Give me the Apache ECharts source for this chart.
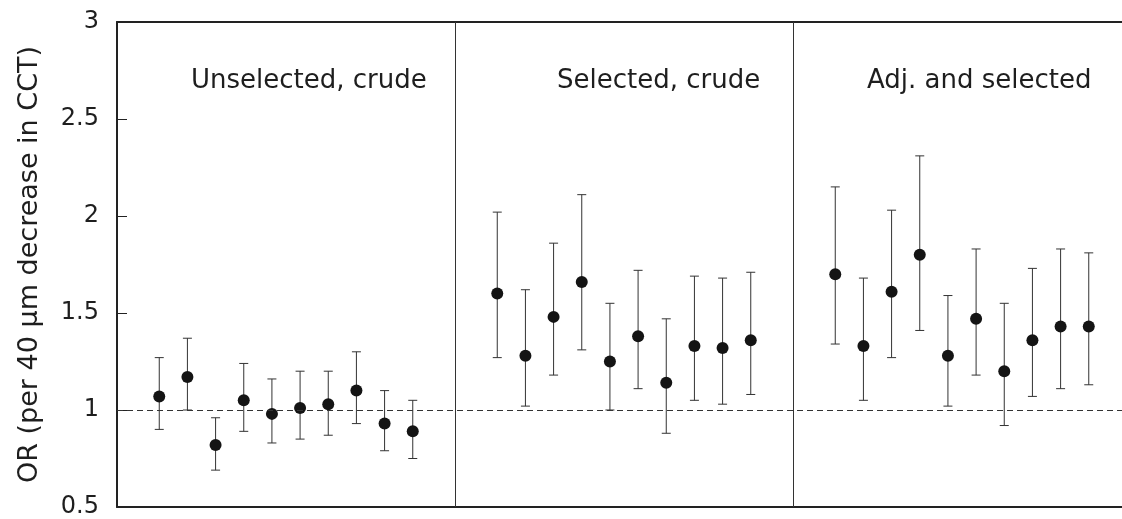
<!DOCTYPE html>
<html><head><meta charset="utf-8">
<script src="https://cdn.jsdelivr.net/npm/echarts@6/dist/echarts.min.js"></script>
<style>html,body{margin:0;padding:0;background:#fff}#c{width:1122px;height:519px}</style>
</head><body><div id="c"></div>
<script>
const panels = ['Unselected, crude', 'Selected, crude', 'Adj. and selected'];
const yTicks = [0.5, 1, 1.5, 2, 2.5, 3];
const est1 = [1.07, 1.17, 0.82, 1.05, 0.98, 1.01, 1.03, 1.10, 0.93, 0.89];
const low1 = [0.90, 1.00, 0.69, 0.89, 0.83, 0.85, 0.87, 0.93, 0.79, 0.75];
const up1  = [1.27, 1.37, 0.96, 1.24, 1.16, 1.20, 1.20, 1.30, 1.10, 1.05];
const est2 = [1.60, 1.28, 1.48, 1.66, 1.25, 1.38, 1.14, 1.33, 1.32, 1.36];
const low2 = [1.27, 1.02, 1.18, 1.31, 1.00, 1.11, 0.88, 1.05, 1.03, 1.08];
const up2  = [2.02, 1.62, 1.86, 2.11, 1.55, 1.72, 1.47, 1.69, 1.68, 1.71];
const est3 = [1.70, 1.33, 1.61, 1.80, 1.28, 1.47, 1.20, 1.36, 1.43, 1.43];
const low3 = [1.34, 1.05, 1.27, 1.41, 1.02, 1.18, 0.92, 1.07, 1.11, 1.13];
const up3  = [2.15, 1.68, 2.03, 2.31, 1.59, 1.83, 1.55, 1.73, 1.83, 1.81];

const groups = [[est1, low1, up1], [est2, low2, up2], [est3, low3, up3]];
const SLOTS = 12;
const pts = [], bars = [];
groups.forEach((g, gi) => {
  g[0].forEach((v, i) => {
    const x = gi * SLOTS + 1.5 + i;
    pts.push([x, v]);
    bars.push([x, g[1][i], g[2][i]]);
  });
});
const FONT = 'DejaVu Sans';
const TXT = '#1e1e1e';
const titleStyle = {fontFamily: FONT, fontSize: 26, fontWeight: 'normal', color: TXT};
const chart = echarts.init(document.getElementById('c'), null, {renderer: 'canvas'});
chart.setOption({
  animation: false,
  grid: {left: 117, top: 22, right: 0, bottom: 12, containLabel: false},
  xAxis: [
    {type: 'value', min: 0, max: 35.68, position: 'bottom',
     axisLine: {show: true, onZero: false, lineStyle: {color: '#222', width: 2}},
     axisTick: {show: false}, axisLabel: {show: false}, splitLine: {show: false}},
    {type: 'value', min: 0, max: 35.68, position: 'top',
     axisLine: {show: true, onZero: false, lineStyle: {color: '#222', width: 2}},
     axisTick: {show: false}, axisLabel: {show: false}, splitLine: {show: false}}
  ],
  yAxis: {type: 'value', min: yTicks[0], max: yTicks[yTicks.length - 1], interval: 0.5,
    name: 'OR (per 40 μm decrease in CCT)', nameLocation: 'middle', nameGap: 74,
    nameTextStyle: {fontFamily: FONT, fontSize: 27, color: TXT},
    axisLine: {show: true, lineStyle: {color: '#222', width: 2}},
    axisTick: {show: true, inside: true, length: 10, lineStyle: {color: '#222', width: 1}},
    axisLabel: {fontFamily: FONT, fontSize: 24, color: TXT, margin: 18,
      formatter: v => String(v)},
    splitLine: {show: false}},
  title: [
    {text: panels[0], left: 186, top: 63, textStyle: titleStyle},
    {text: panels[1], left: 552, top: 63, textStyle: titleStyle},
    {text: panels[2], left: 862, top: 63, textStyle: titleStyle}
  ],
  series: [
    {type: 'custom', data: bars, z: 2,
     renderItem: (params, api) => {
       const x = api.value(0);
       const lo = api.coord([x, api.value(1)]);
       const hi = api.coord([x, api.value(2)]);
       const hw = 4.5;
       const st = {stroke: '#333', lineWidth: 1};
       return {type: 'group', children: [
         {type: 'line', shape: {x1: lo[0], y1: lo[1], x2: hi[0], y2: hi[1]}, style: st},
         {type: 'line', shape: {x1: lo[0] - hw, y1: lo[1], x2: lo[0] + hw, y2: lo[1]}, style: st},
         {type: 'line', shape: {x1: hi[0] - hw, y1: hi[1], x2: hi[0] + hw, y2: hi[1]}, style: st}
       ]};
     },
     markLine: {silent: true, symbol: 'none', label: {show: false},
       data: [
         {yAxis: 1, lineStyle: {type: [6, 4], color: '#333', width: 1}},
         {xAxis: SLOTS, lineStyle: {type: 'solid', color: '#333', width: 1}},
         {xAxis: SLOTS * 2, lineStyle: {type: 'solid', color: '#333', width: 1}}
       ]}
    },
    {type: 'scatter', data: pts, symbol: 'circle', symbolSize: 12, z: 3,
     itemStyle: {color: '#141414', opacity: 1}}
  ]
});
</script></body></html>
